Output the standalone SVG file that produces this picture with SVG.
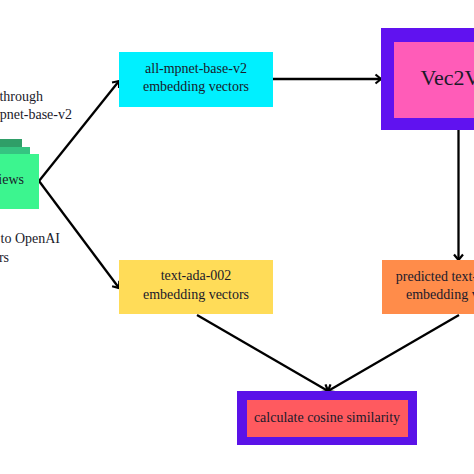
<svg xmlns="http://www.w3.org/2000/svg" width="474" height="474" viewBox="0 0 474 474">
<defs>
<marker id="a" markerUnits="userSpaceOnUse" markerWidth="12" markerHeight="12" refX="9" refY="6" orient="auto"><path d="M3.5 1.5L9 6L3.5 10.5" fill="none" stroke="#000" stroke-width="2.2"/></marker>
</defs>
<style>
text{font-family:"Liberation Serif","Times New Roman",serif;font-size:14px;fill:#1a1a2a;text-anchor:middle}
.e{text-anchor:end}
.c{fill:none;stroke:#000;stroke-width:2.3;marker-end:url(#a)}
</style>
<rect width="474" height="474" fill="#fff"/>
<g id="connectors">
<path class="c" d="M39 181L119 81"/>
<path class="c" d="M39 181L119 288"/>
<path class="c" d="M273 79L381 79"/>
<path class="c" d="M458.500 130L458.500 260"/>
<path class="c" d="M197 315L328 391"/>
<path class="c" d="M459 315L328 391"/>
</g>
<g id="label-top"><text class="e" x="43" y="101">through</text><text class="e" x="72" y="119">all-mpnet-base-v2</text></g>
<g id="label-bottom"><text class="e" x="60" y="243">to OpenAI</text><text class="e" x="9" y="262">vectors</text></g>
<g id="reviews">
<rect x="-20" y="139" width="42" height="20" fill="#2f9e68"/>
<rect x="-20" y="147" width="50" height="20" fill="#35c481"/>
<rect x="-20" y="154" width="59" height="55" fill="#3cf58f"/>
<text class="e" x="24" y="184">Reviews</text>
</g>
<g id="mpnet"><rect x="119" y="52" width="154" height="55" fill="#00f0ff"/><text x="196" y="73" fill="#0a5a66">all-mpnet-base-v2</text><text x="196" y="91">embedding vectors</text></g>
<g id="ada"><rect x="119" y="260" width="154" height="54" fill="#ffdc58"/><text x="196" y="280">text-ada-002</text><text x="196" y="299">embedding vectors</text></g>
<g id="vec2vec"><rect x="381" y="28" width="156" height="102" fill="#6012f0"/><rect x="394" y="42" width="130" height="76" fill="#ff5cb8"/><text x="459" y="85" style="font-size:22px">Vec2Vec</text></g>
<g id="predicted"><rect x="382" y="260" width="154" height="54" fill="#ff8c4a"/><text x="459" y="281">predicted text-ada-002</text><text x="459" y="299">embedding vectors</text></g>
<g id="cosine"><rect x="237" y="391" width="180" height="54" fill="#5a12e8"/><rect x="247" y="400" width="161" height="37" fill="#ff5a5f"/><text x="327" y="422">calculate cosine similarity</text></g>
</svg>
